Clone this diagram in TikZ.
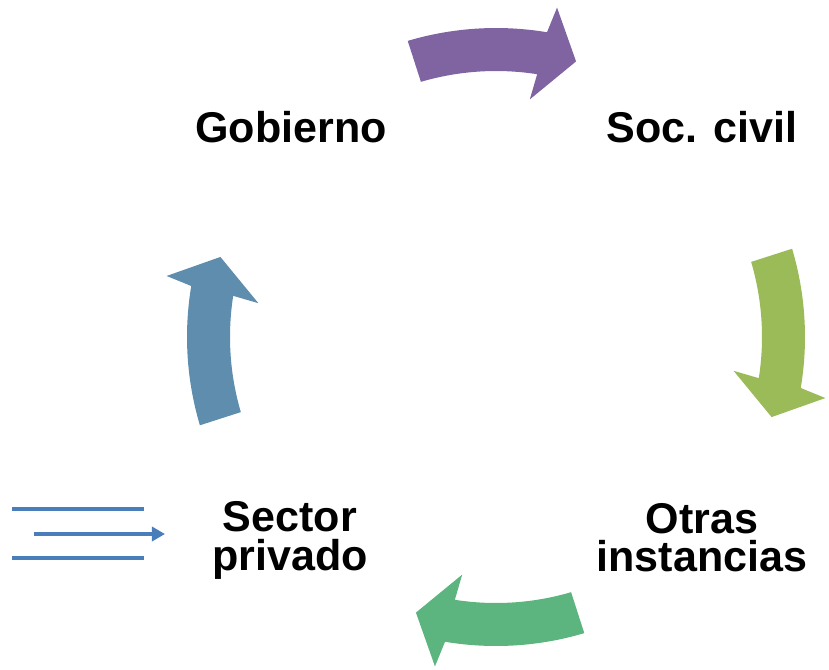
\documentclass[tikz,border=0pt]{standalone}
\usepackage{fontspec}
\setmainfont{Liberation Sans}
\usepackage{tikz}
\usetikzlibrary{arrows.meta, positioning}

\definecolor{cyclepurple}{HTML}{8064A2}
\definecolor{cyclelime}{HTML}{9BBB59}
\definecolor{cyclegreen}{HTML}{5CB47E}
\definecolor{cycleblue}{HTML}{5F8DAE}
\definecolor{lineblue}{HTML}{4A7EBB}

\begin{document}
\begin{tikzpicture}[
    label/.style={font=\fontsize{24.5}{22}\selectfont\bfseries, align=center},
    bar/.style={lineblue, line width=2.2pt}
]
\useasboundingbox (-9.92,-6.64) rectangle (6.66,6.74);

% nodes
\node[label] (gob) at (-4.10, 4.19) {Gobierno};
\node[label] (soc) at (4.12, 4.19) {Soc. civil};
\node[label] (otras) at (4.12, -4.01) {Otras\\instancias};
\node[label] (priv) at (-4.12, -4.07) {Sector\\privado};

\coordinate (t1) at (-9.68, -3.44);
\coordinate (t2) at (-7.04, -3.44);
\coordinate (m1) at (-9.24, -3.94);
\coordinate (m2) at (-6.62, -3.94);
\coordinate (b1) at (-9.68, -4.42);
\coordinate (b2) at (-7.04, -4.42);

% arrows
\fill[cyclepurple] (106.6:6.18) arc[start angle=106.6, end angle=80.5, radius=6.18]
    -- (79.5:6.70) -- (73.8:5.74) -- (81.9:4.80) -- (81.1:5.32)
    arc[start angle=81.1, end angle=106.4, radius=5.32] -- cycle;
\fill[cyclelime, rotate=-90] (106.6:6.18) arc[start angle=106.6, end angle=80.5, radius=6.18]
    -- (79.5:6.70) -- (73.8:5.74) -- (81.9:4.80) -- (81.1:5.32)
    arc[start angle=81.1, end angle=106.4, radius=5.32] -- cycle;
\fill[cyclegreen, rotate=-180] (106.6:6.18) arc[start angle=106.6, end angle=80.5, radius=6.18]
    -- (79.5:6.70) -- (73.8:5.74) -- (81.9:4.80) -- (81.1:5.32)
    arc[start angle=81.1, end angle=106.4, radius=5.32] -- cycle;
\fill[cycleblue, rotate=90] (106.6:6.18) arc[start angle=106.6, end angle=80.5, radius=6.18]
    -- (79.5:6.70) -- (73.8:5.74) -- (81.9:4.80) -- (81.1:5.32)
    arc[start angle=81.1, end angle=106.4, radius=5.32] -- cycle;

\draw[bar] (t1) -- (t2);
\draw[bar, -{Triangle[length=0.26cm, width=0.28cm]}] (m1) -- (m2);
\draw[bar] (b1) -- (b2);

\end{tikzpicture}
\end{document}
